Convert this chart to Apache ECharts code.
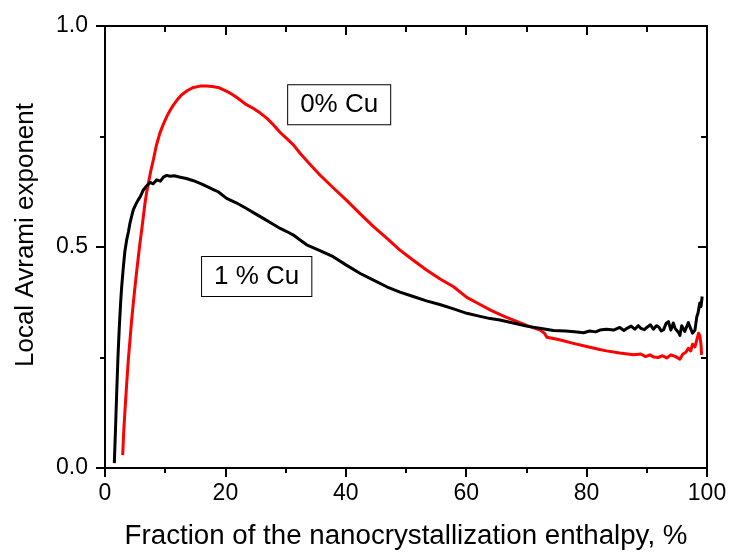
<!DOCTYPE html>
<html>
<head>
<meta charset="utf-8">
<script src="https://cdn.jsdelivr.net/npm/echarts@6/dist/echarts.min.js"></script>
<style>
  html, body { margin: 0; padding: 0; background: #fff; }
  #chart { width: 732px; height: 557px; }
</style>
</head>
<body>
<div id="chart"></div>
<script>
// Local Avrami exponent vs. fraction of the nanocrystallization enthalpy (%)
const cu1X = [1.55, 1.75, 1.94, 2.15, 2.38, 2.6, 2.77, 3.05, 3.3, 3.6, 3.9, 4.15, 4.4, 4.7, 5.1, 5.5, 5.9, 6.37, 6.9, 7.5,
  8.0, 8.6, 9.2, 9.7, 10.25, 10.8, 11.5, 12.5, 13.5, 14.7, 15.8, 16.9, 18.0, 18.8, 20.2, 21.8, 23.5, 25.0, 26.5, 28.0,
  29.1, 30.2, 31.3, 32.4, 33.5, 35.7, 37.9, 40.1, 42.4, 44.6, 46.8, 49.0, 51.2, 53.4, 55.6, 57.9, 60.1, 62.3, 64.0, 65.6,
  67.8, 70.0, 72.2, 74.5, 76.5, 78.0, 79.5, 80.5, 81.5, 82.2, 83.3, 84.5, 85.5, 86.2, 86.7, 87.4, 88.0, 88.6, 89.0, 89.6,
  90.0, 90.6, 91.1, 91.6, 92.0, 92.4, 92.8, 93.2, 93.6, 94.0, 94.4, 94.7, 95.0, 95.3, 95.5, 95.8, 96.0, 96.3, 96.5, 96.9,
  97.2, 97.6, 98.0, 98.3, 98.5, 98.8, 99.0, 99.2];
const cu1Y = [0.011, 0.09, 0.169, 0.25, 0.32, 0.375, 0.41, 0.455, 0.49, 0.516, 0.535, 0.554, 0.568, 0.584, 0.596, 0.606, 0.615, 0.629, 0.638, 0.646,
  0.643, 0.652, 0.649, 0.658, 0.662, 0.66, 0.661, 0.658, 0.655, 0.65, 0.644, 0.637, 0.63, 0.625, 0.61, 0.6, 0.587, 0.575, 0.563, 0.551,
  0.542, 0.535, 0.527, 0.516, 0.505, 0.492, 0.478, 0.459, 0.44, 0.425, 0.41, 0.398, 0.388, 0.378, 0.37, 0.36, 0.35, 0.343, 0.338, 0.335,
  0.328, 0.321, 0.316, 0.311, 0.31, 0.308, 0.306, 0.31, 0.308, 0.312, 0.314, 0.312, 0.318, 0.311, 0.316, 0.321, 0.314, 0.322, 0.316, 0.313,
  0.318, 0.324, 0.314, 0.322, 0.319, 0.31, 0.313, 0.327, 0.331, 0.312, 0.328, 0.316, 0.315, 0.306, 0.3, 0.322, 0.325, 0.309, 0.312, 0.329,
  0.318, 0.305, 0.312, 0.342, 0.35, 0.373, 0.365, 0.388];

const cu0X = [2.94, 3.1, 3.32, 3.6, 3.87, 4.15, 4.43, 4.7, 4.98, 5.26, 5.54, 5.8, 6.09, 6.36, 6.64, 6.9, 7.2, 7.6, 8.03, 8.5,
  9.1, 9.7, 10.25, 10.8, 11.35, 12.0, 12.7, 13.7, 14.7, 15.8, 16.9, 17.8, 18.8, 19.8, 20.8, 21.6, 22.4, 23.5, 24.6, 25.8,
  26.9, 28.0, 29.1, 30.2, 31.3, 32.4, 34.0, 35.7, 37.9, 40.1, 42.4, 44.6, 46.8, 49.0, 51.2, 53.4, 55.6, 57.9, 60.1, 62.3,
  64.2, 66.5, 68.9, 70.6, 72.3, 73.0, 73.4, 75.5, 77.8, 80.0, 82.2, 83.3, 85.5, 87.8, 89.0, 89.8, 90.5, 91.2, 91.9, 92.6,
  93.3, 94.0, 94.8, 95.5, 96.0, 96.5, 96.9, 97.3, 97.6, 98.0, 98.3, 98.6, 98.8, 99.0, 99.1];
const cu0Y = [0.029, 0.08, 0.131, 0.19, 0.244, 0.29, 0.335, 0.373, 0.41, 0.445, 0.478, 0.508, 0.538, 0.568, 0.599, 0.622, 0.644, 0.672, 0.697, 0.728,
  0.757, 0.778, 0.795, 0.809, 0.821, 0.833, 0.844, 0.854, 0.861, 0.864, 0.864, 0.863, 0.861, 0.855, 0.848, 0.841, 0.833, 0.822, 0.814, 0.803,
  0.791, 0.776, 0.759, 0.745, 0.731, 0.712, 0.688, 0.663, 0.634, 0.606, 0.575, 0.546, 0.52, 0.493, 0.47, 0.448, 0.428, 0.41, 0.386, 0.37,
  0.356, 0.342, 0.329, 0.32, 0.312, 0.305, 0.296, 0.29, 0.282, 0.275, 0.268, 0.265, 0.26, 0.256, 0.258, 0.252, 0.256, 0.251, 0.25, 0.254,
  0.249, 0.256, 0.252, 0.246, 0.258, 0.262, 0.271, 0.265, 0.28, 0.274, 0.29, 0.305, 0.3, 0.28, 0.256];

const xTicks = [0, 20, 40, 60, 80, 100];
const yTickLabels = ['0.0', '0.5', '1.0'];

// Curve labels, anchored in data coordinates
const seriesLabels = [
  { text: '0% Cu', at: [38.9, 0.822] },
  { text: '1 % Cu', at: [25.2, 0.433] }
];

const FONT = "'Liberation Sans', Arial, sans-serif";
const zip = (xs, ys) => xs.map((x, i) => [x, ys[i]]);

const chart = echarts.init(document.getElementById('chart'), null, { renderer: 'canvas' });

const frameLine = { show: true, onZero: false, lineStyle: { color: '#000', width: 2 } };

chart.setOption({
  backgroundColor: '#fff',
  animation: false,
  grid: { left: 105, right: 25, top: 26, bottom: 89, containLabel: false },
  xAxis: [
    {
      type: 'value', position: 'bottom', min: 0, max: 100, interval: 20,
      axisLine: frameLine,
      axisTick: { show: true, inside: false, length: 9, lineStyle: { color: '#000', width: 2 } },
      minorTick: { show: true, splitNumber: 2, length: 5, lineStyle: { color: '#000', width: 2 } },
      splitLine: { show: false },
      axisLabel: {
        margin: 14, color: '#000', fontSize: 23, fontFamily: FONT,
        formatter: v => (xTicks.indexOf(v) >= 0 ? String(v) : '')
      },
      name: 'Fraction of the nanocrystallization enthalpy, %',
      nameLocation: 'middle', nameGap: 54,
      nameTextStyle: { color: '#000', fontSize: 27.7, fontFamily: FONT }
    },
    {
      type: 'value', position: 'top', min: 0, max: 100, interval: 20,
      axisLine: frameLine,
      axisTick: { show: true, inside: true, length: 9, lineStyle: { color: '#000', width: 2 } },
      minorTick: { show: true, splitNumber: 2, length: 6, lineStyle: { color: '#000', width: 2 } },
      splitLine: { show: false },
      axisLabel: { show: false }
    }
  ],
  yAxis: [
    {
      type: 'value', position: 'left', min: 0, max: 1, interval: 0.5,
      axisLine: frameLine,
      axisTick: { show: true, inside: false, length: 9, lineStyle: { color: '#000', width: 2 } },
      minorTick: { show: true, splitNumber: 2, length: 5, lineStyle: { color: '#000', width: 2 } },
      splitLine: { show: false },
      axisLabel: {
        margin: 17, color: '#000', fontSize: 23, fontFamily: FONT,
        formatter: v => yTickLabels[Math.round(v * 2)] || ''
      },
      name: 'Local Avrami exponent',
      nameLocation: 'middle', nameGap: 66,
      nameTextStyle: { color: '#000', fontSize: 26, fontFamily: FONT, padding: [0, 0, 0, 24] }
    },
    {
      type: 'value', position: 'right', min: 0, max: 1, interval: 0.5,
      axisLine: frameLine,
      axisTick: { show: true, inside: true, length: 9, lineStyle: { color: '#000', width: 2 } },
      minorTick: { show: true, splitNumber: 2, length: 6, lineStyle: { color: '#000', width: 2 } },
      splitLine: { show: false },
      axisLabel: { show: false }
    }
  ],
  series: [
    {
      name: '1 % Cu', type: 'line', xAxisIndex: 0, yAxisIndex: 0,
      data: zip(cu1X, cu1Y), showSymbol: false, symbol: 'none',
      lineStyle: { color: '#000', width: 3, join: 'round' }, z: 3
    },
    {
      name: '0% Cu', type: 'line', xAxisIndex: 0, yAxisIndex: 0,
      data: zip(cu0X, cu0Y), showSymbol: false, symbol: 'none',
      lineStyle: { color: '#ff0000', width: 3, join: 'round' }, z: 2
    }
  ]
});

// Boxed curve labels placed through the grid's coordinate system
chart.setOption({
  graphic: seriesLabels.map(l => {
    const p = chart.convertToPixel({ gridIndex: 0 }, l.at);
    return {
      type: 'text', x: p[0], y: p[1], z: 10,
      style: {
        text: l.text, font: "26px 'Liberation Sans', Arial, sans-serif", fill: '#000',
        align: 'center', verticalAlign: 'middle',
        backgroundColor: '#fff', borderColor: '#000', borderWidth: 1,
        padding: [7, 12, 6, 12]
      }
    };
  })
});
</script>
</body>
</html>
